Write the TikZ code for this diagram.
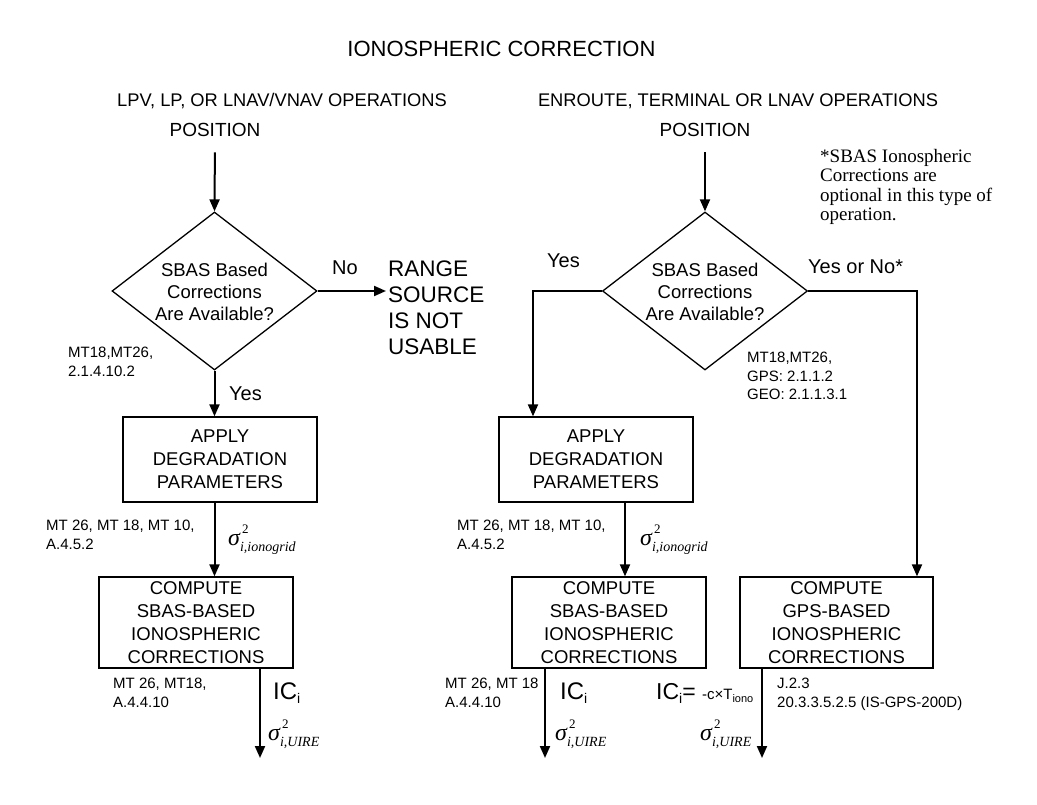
\documentclass[tikz,border=0pt]{standalone}
\usepackage{fontspec}
\setmainfont{Liberation Sans}
\newfontfamily\serif{Liberation Serif}
\usetikzlibrary{shapes.geometric,arrows.meta}
\newcommand{\fs}[2]{\fontsize{#1}{#2}\selectfont}
\newcommand{\sigq}[1]{{\serif\itshape\fs{24}{24}σ}\rlap{\raisebox{12pt}{\serif\fs{13}{13}\,2}}\raisebox{-6pt}{\serif\itshape\fs{14}{14}#1}}
\newcommand{\ICi}{IC\raisebox{-4pt}{\fs{14}{14}i}}
\begin{document}
\begin{tikzpicture}[x=1pt,y=-1pt,
  box/.style={draw,line width=1.3pt,minimum width=194pt,inner sep=0pt,align=center,font=\fs{18.5}{23}},
  dia/.style={draw,diamond,line width=1.3pt,minimum width=205pt,minimum height=158pt,inner sep=0pt},
  dtext/.style={inner sep=0pt,align=center,font=\fs{18.5}{22}},
  arr/.style={line width=2pt,-{Triangle[length=12pt,width=10pt]}},
  lbl/.style={anchor=north west,inner sep=0pt,align=left,font=\fs{15}{18.5}},
  txt/.style={anchor=base,inner sep=0pt},
  ans/.style={anchor=base west,inner sep=0pt,font=\fs{20}{24}},
  sg/.style={anchor=base west,inner sep=0pt}
]
\useasboundingbox[fill=white] (0,0) rectangle (1037,805);

% titles
\node[txt,font=\fs{22}{26}] (title) at (501.5,57) {IONOSPHERIC CORRECTION};
\node[txt,font=\fs{18.3}{22}] (subl) at (282,107) {LPV, LP, OR LNAV/VNAV OPERATIONS};
\node[txt,font=\fs{18.3}{22}] (subr) at (738,107) {ENROUTE, TERMINAL OR LNAV OPERATIONS};
\node[txt,font=\fs{19}{22}] (p1) at (215,137) {POSITION};
\node[txt,font=\fs{19}{22}] (p2) at (705,137) {POSITION};

% diamonds
\node[dia] (d1) at (214.5,291) {};
\node[dtext] (d1t) at (214.5,291.5) {SBAS Based\\Corrections\\Are Available?};
\node[dia] (d2) at (705,291) {};
\node[dtext] (d2t) at (705,291.5) {SBAS Based\\Corrections\\Are Available?};

% range source
\node[anchor=north west,inner sep=0pt,align=left,font=\fs{22.5}{26}] (rng) at (388,261) {RANGE\\SOURCE\\IS NOT\\USABLE};

% boxes
\node[box,minimum height=85pt] (a1) at (220,459.5) {APPLY\\DEGRADATION\\PARAMETERS};
\node[box,minimum height=85pt] (a2) at (596,459.5) {APPLY\\DEGRADATION\\PARAMETERS};
\node[box,minimum height=91pt] (c1) at (196,622.5) {COMPUTE\\SBAS-BASED\\IONOSPHERIC\\CORRECTIONS};
\node[box,minimum height=91pt] (c2) at (609,622.5) {COMPUTE\\SBAS-BASED\\IONOSPHERIC\\CORRECTIONS};
\node[box,minimum height=91pt,minimum width=193pt] (g) at (836.5,622.5) {COMPUTE\\GPS-BASED\\IONOSPHERIC\\CORRECTIONS};

% coordinates
\coordinate (k1) at (533,291);
\coordinate (k2) at (917,291);
\coordinate (k3) at (625,540);
\coordinate (e1) at (260,758);
\coordinate (e2) at (545,758);
\coordinate (e3) at (762,758);

% connectors left
\draw[arr,shorten <=15pt] (p1.south) -- (d1.north);
\draw[arr,shorten >=2pt] (d1.east) -- (d1.east -| rng.west);
\draw[arr] (d1.south) -- (d1.south |- a1.north);
\draw[arr] (d1.south |- a1.south) -- (d1.south |- c1.north);
\draw[arr] (e1 |- c1.south) -- (e1);

% connectors right
\draw[arr,shorten <=15pt] (p2.south) -- (d2.north);
\draw[arr] (d2.west) -- (k1) -- (k1 |- a2.north);
\draw[arr] (d2.east) -- (k2) -- (k2 |- g.north);
\draw[arr] (k3 |- a2.south) -- (k3 |- c2.north);
\draw[arr] (e2 |- c2.south) -- (e2);
\draw[arr] (e3 |- g.south) -- (e3);

% answers
\node[ans] (no1) at (332,275) {No};
\node[ans] (yes1) at (229,400) {Yes};
\node[ans] (yes2) at (547,268) {Yes};
\node[ans] (yn) at (808,274) {Yes or No*};

% references
\node[lbl] (l1) at (68,347) {MT18,MT26,\\2.1.4.10.2};
\node[lbl] (l7) at (747,352) {MT18,MT26,\\GPS: 2.1.1.2\\GEO: 2.1.1.3.1};
\node[lbl] (l2) at (46,520) {MT 26, MT 18, MT 10,\\A.4.5.2};
\node[lbl] (l3) at (457,520) {MT 26, MT 18, MT 10,\\A.4.5.2};
\node[lbl] (l4) at (113,678) {MT 26, MT18,\\A.4.4.10};
\node[lbl] (l5) at (445,678) {MT 26, MT 18\\A.4.4.10};
\node[lbl] (l6) at (777,678) {J.2.3\\20.3.3.5.2.5 (IS-GPS-200D)};

% note
\node[anchor=north west,inner sep=0pt,align=left,font=\serif\fs{19}{19.5}] (note) at (820,149) {*SBAS Ionospheric\\Corrections are\\optional in this type of\\operation.};

% sigmas
\node[sg] (s1) at (228,545) {\sigq{i,ionogrid}};
\node[sg] (s2) at (640,545) {\sigq{i,ionogrid}};
\node[sg] (s3) at (268,740) {\sigq{i,UIRE}};
\node[sg] (s4) at (555,740) {\sigq{i,UIRE}};
\node[sg] (s5) at (700,740) {\sigq{i,UIRE}};

% IC
\node[sg,font=\fs{24}{24}] (ic1) at (273,699) {\ICi};
\node[sg,font=\fs{24}{24}] (ic2) at (560,699) {\ICi};
\node[sg,font=\fs{23}{24}] (ic3) at (656,699) {\ICi= {\fs{15}{16}-c×T\raisebox{-3pt}{\fs{11}{12}iono}}};
\end{tikzpicture}
\end{document}
